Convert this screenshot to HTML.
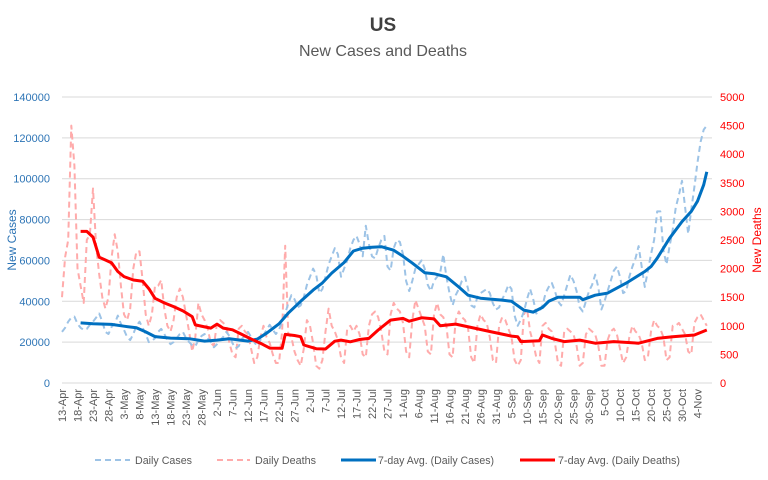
<!DOCTYPE html>
<html><head><meta charset="utf-8"><style>
body{margin:0;background:#fff;}
svg{display:block;font-family:"Liberation Sans",sans-serif;}
</style></head><body>
<svg id="chart" width="768" height="480" viewBox="0 0 768 480">
<text x="383" y="31" text-anchor="middle" font-size="19" font-weight="bold" fill="#404040">US</text>
<text x="383" y="56" text-anchor="middle" font-size="16" fill="#595959">New Cases and Deaths</text>
<text transform="translate(16,240) rotate(-90)" text-anchor="middle" font-size="12" fill="#2e75b6">New Cases</text>
<text transform="translate(761,240) rotate(-90)" text-anchor="middle" font-size="12" fill="#ff0000">New Deaths</text>
<g id="grid"></g>
<g id="yl"></g>
<g id="yr"></g>
<g id="xl"></g>
<g id="series"></g>
<g>
<g><line x1="95" y1="460" x2="130" y2="460" stroke="#9dc3e6" stroke-width="2" stroke-dasharray="6,4"/><text x="135" y="464" font-size="11" fill="#595959" textLength="57" lengthAdjust="spacingAndGlyphs">Daily Cases</text></g>
<g><line x1="217" y1="460" x2="250" y2="460" stroke="#ffabab" stroke-width="2" stroke-dasharray="6,4"/><text x="255" y="464" font-size="11" fill="#595959" textLength="61" lengthAdjust="spacingAndGlyphs">Daily Deaths</text></g>
<g><line x1="341" y1="460" x2="376" y2="460" stroke="#0070c0" stroke-width="3"/><text x="378" y="464" font-size="11" fill="#595959" textLength="116" lengthAdjust="spacingAndGlyphs">7-day Avg. (Daily Cases)</text></g>
<g><line x1="520" y1="460" x2="555" y2="460" stroke="#ff0000" stroke-width="3"/><text x="558" y="464" font-size="11" fill="#595959" textLength="122" lengthAdjust="spacingAndGlyphs">7-day Avg. (Daily Deaths)</text></g>
</g>
</svg>
<script>
const leftTicks=[0,20000,40000,60000,80000,100000,120000,140000];
const rightTicks=[0,500,1000,1500,2000,2500,3000,3500,4000,4500,5000];
const months=["Jan","Feb","Mar","Apr","May","Jun","Jul","Aug","Sep","Oct","Nov","Dec"];
const dailyCases=[25000,27000,30000,32000,32500,29000,27000,
26000,26500,28500,30000,32000,34000,30000,
25000,24000,27500,29000,33000,29000,26000,
22500,21000,24000,28000,30000,27000,24000,
20000,20500,22000,25000,26500,24000,21000,
19000,20000,22000,24000,25000,22000,20000,
18500,18000,21000,23000,24000,22000,20000,
17500,19000,21000,22500,25000,23000,19500,
17000,18000,21500,23000,25000,22500,20000,
18000,21000,23500,26000,28500,26000,24000,
26000,30000,34000,39000,43000,41000,37000,
38000,42000,48000,52000,56000,53000,44000,
46000,52000,58000,62000,66000,63000,52000,
56000,60000,66000,70000,72000,68000,62000,
77000,68000,62000,61000,66000,70000,72000,
57000,55000,66000,70000,69000,63000,50000,
45000,50000,56000,58000,60000,56000,48000,
45000,50000,52000,54000,63000,52000,44000,
38000,43000,46000,50000,52000,46000,38000,
37000,42000,44000,45000,46000,44000,39000,
36000,37000,41000,44000,48000,46000,33000,
28000,31000,35000,41000,46000,41000,34000,
35000,38000,44000,47000,49000,45000,40000,
38000,43000,48000,53000,50000,45000,37000,
35000,40000,45000,48000,53000,47000,36000,
40000,45000,50000,55000,57000,52000,44000,
45000,52000,57000,61000,67000,57000,47000,
55000,63000,70000,84000,84000,65000,58000,
67000,75000,86000,92000,99000,86000,73000,
85000,96000,108000,118000,124000,126000];
const dailyDeaths=[1500,2200,2500,4500,3800,2000,1700,
1400,2500,2600,3400,2400,1900,1500,
1300,1500,2200,2600,2300,1700,1200,
1100,1300,2000,2300,2300,1800,1200,
1000,1200,1700,1700,1800,1300,1000,
900,1100,1500,1650,1500,1200,900,
550,800,1400,1200,1100,950,700,
650,1050,1100,1050,1000,700,500,
450,950,1000,900,850,600,350,
450,800,1000,800,700,500,350,
350,900,2400,850,800,550,400,
300,600,1100,1000,700,300,250,
400,900,1300,1000,900,750,450,
350,950,1000,900,1000,850,500,
450,1000,1200,1250,1150,900,550,
500,1200,1400,1300,1250,1050,550,
450,1100,1450,1300,1150,1000,550,
500,1200,1400,1200,1150,1000,500,
450,1100,1250,1150,1100,950,450,
350,1000,1200,1100,1050,800,400,
350,1000,1150,1100,950,800,400,
300,400,1200,1300,900,700,450,
350,1000,1050,950,900,700,350,
300,900,950,900,850,650,300,
350,850,950,900,850,650,300,
300,750,900,950,850,600,350,
450,800,1000,900,850,700,400,
450,900,1100,1000,950,800,400,
450,1000,1000,1050,950,850,550,
500,1050,1150,1200,1100,1000];
const avgCasesDays=[6,10,16,20,24,27,30,35,41,46,50,54,60,63,66,70,73,77,81,84,87,91,94,97,100,103,107,110,113,117,120,124,128,131,135,142,145,149,152,155,157,160,167,168,172,176,182,188,190,192,196,200,203,205,207,208];
const avgCases=[29400,29000,28700,27800,27000,25000,22700,22000,21700,20500,21000,21700,20500,21500,24400,29000,34200,40000,45500,49000,53800,59000,64600,66000,66500,66700,65000,62000,58700,54000,53500,52000,47000,43000,41500,40600,40000,35700,34700,37000,40000,42000,42000,40800,43000,44000,48900,54600,57000,61100,70900,79000,84000,89000,97000,103400];
const avgDeathsDays=[6,8,10,12,14,16,18,20,23,26,28,30,33,36,39,42,43,46,48,50,52,55,58,61,64,67,71,72,75,77,78,82,85,88,90,93,96,99,102,106,110,112,116,120,122,127,133,138,145,147,148,154,155,158,162,167,172,178,186,192,197,204,208];
const avgDeaths=[2650,2650,2550,2200,2150,2100,1950,1860,1800,1780,1650,1480,1400,1335,1260,1160,1015,980,960,1030,960,930,850,770,695,610,607,850,830,810,665,600,595,730,750,720,760,780,927,1100,1130,1080,1140,1120,1000,1030,960,900,820,810,723,740,840,780,723,750,695,723,695,780,810,840,927];

const NS="http://www.w3.org/2000/svg";
const X0=62,DX=3.1,YB=383,YT=97;
const x=d=>X0+d*DX;
const yL=v=>YB-(v/140000)*(YB-YT);
const yR=v=>YB-(v/5000)*(YB-YT);
function mk(tag,attrs,parent){const e=document.createElementNS(NS,tag);for(const k in attrs)e.setAttribute(k,attrs[k]);parent.appendChild(e);return e;}
const grid=document.getElementById('grid');
leftTicks.forEach(v=>{const l=mk('line',{x1:X0,x2:712,y1:yL(v),y2:yL(v),stroke:'#d9d9d9','stroke-width':1},grid);

});
const yl=document.getElementById('yl');
leftTicks.forEach(v=>{const t=mk('text',{x:50,y:yL(v)+4,'text-anchor':'end','font-size':11,fill:'#2e75b6'},yl);t.textContent=v;

});
const yr=document.getElementById('yr');
rightTicks.forEach(v=>{const t=mk('text',{x:720,y:yR(v)+4,'font-size':11,fill:'#ff0000'},yr);t.textContent=v;

});
const xl=document.getElementById('xl');
const start=new Date(2020,3,13);
for(let d=0;d<dailyCases.length;d+=5){const dt=new Date(start.getTime()+d*86400000);
const lab=dt.getDate()+'-'+months[dt.getMonth()];
const t=mk('text',{transform:`translate(${x(d)+4},389) rotate(-90)`,'text-anchor':'end','font-size':11,fill:'#595959'},xl);t.textContent=lab;

}
const S=document.getElementById('series');
function path(pts){return pts.map((p,i)=>(i?'L':'M')+p[0].toFixed(1)+','+p[1].toFixed(1)).join('');}
const p1=mk('path',{d:path(dailyDeaths.map((v,i)=>[x(i),yR(v)])),fill:'none',stroke:'#ffabab','stroke-width':2,'stroke-dasharray':'6,4','stroke-linejoin':'round'},S);


const p2=mk('path',{d:path(dailyCases.map((v,i)=>[x(i),yL(v)])),fill:'none',stroke:'#9dc3e6','stroke-width':2,'stroke-dasharray':'6,4','stroke-linejoin':'round'},S);


const p3=mk('path',{d:path(avgCases.map((v,i)=>[x(avgCasesDays[i]),yL(v)])),fill:'none',stroke:'#0070c0','stroke-width':3,'stroke-linejoin':'round'},S);


const p4=mk('path',{d:path(avgDeaths.map((v,i)=>[x(avgDeathsDays[i]),yR(v)])),fill:'none',stroke:'#ff0000','stroke-width':3,'stroke-linejoin':'round'},S);


</script>
</body></html>
